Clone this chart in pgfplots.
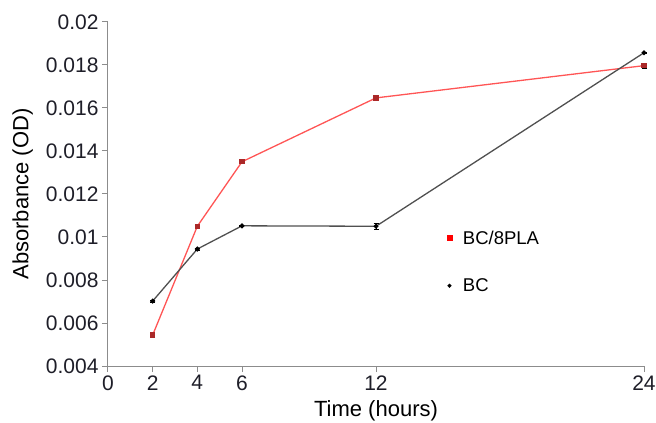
\documentclass[border=0pt]{standalone}
\usepackage{pgfplots}
\pgfplotsset{compat=1.18}
\usepackage{fontspec}
\setmainfont{Liberation Sans}
\definecolor{axgray}{gray}{0.55}
\definecolor{redline}{RGB}{255,85,85}
\definecolor{redmark}{RGB}{170,40,40}
\definecolor{blackline}{RGB}{80,80,80}
\definecolor{txt}{RGB}{30,30,40}
\begin{document}
\begin{tikzpicture}
\useasboundingbox (-108pt,-57pt) rectangle (548pt,366pt);
\begin{axis}[
  at={(0pt,0pt)}, anchor=south west,
  scale only axis,
  width=536pt, height=344pt,
  xmin=0, xmax=24, ymin=0.004, ymax=0.02,
  axis x line*=bottom, axis y line*=left,
  axis line style={axgray, line width=1pt},
  tick style={axgray, line width=1pt},
  tick align=outside,
  major tick length=6pt,
  xtick={0,2,4,6,12,24},
  ytick={0.004,0.006,0.008,0.01,0.012,0.014,0.016,0.018,0.02},
  yticklabels={0.004,0.006,0.008,0.01,0.012,0.014,0.016,0.018,0.02},
  scaled y ticks=false,
  /pgf/number format/assume math mode=true,
  ticklabel style={font=\fontsize{21}{24}\selectfont, text=txt},
  xlabel={Time (hours)},
  ylabel={Absorbance (OD)},
  label style={font=\fontsize{22}{26}\selectfont, text=black},
  xlabel style={at={(ticklabel cs:0.5)}, anchor=north, yshift=-3pt},
  ylabel style={at={(ticklabel cs:0.5)}, anchor=south, yshift=6pt},
  legend style={draw=none, fill=none, at={(0.632,0.40)}, anchor=north west,
    font=\fontsize{18.5}{22}\selectfont, row sep=29pt, inner sep=0pt,
    /tikz/every odd column/.append style={column sep=9pt}},
  legend cell align=left,
  clip=false,
]
\addlegendimage{only marks, mark=square*, mark size=2.5pt, mark options={fill=red, draw=red}}
\addlegendentry{BC/8PLA}
\addlegendimage{only marks, mark=*, mark size=1.8pt, mark options={fill=black, draw=black}}
\addlegendentry{BC}
\addplot[forget plot, redline, line width=1.3pt, mark=square*, mark size=2pt,
  mark options={fill=redmark, draw=redmark},
  error bars/.cd, y dir=both, y explicit,
  error bar style={black, line width=0.8pt}, error mark options={black, mark size=2.5pt, rotate=90}]
  coordinates {
  (2,0.00544) +- (0,0.00012)
  (4,0.0105) +- (0,0.00005)
  (6,0.0135) +- (0,0.00004)
  (12,0.01647) +- (0,0.00008)
  (24,0.01797) +- (0,0.00012)
  };
\addplot[forget plot, blackline, line width=1.3pt, mark=*, mark size=1.8pt,
  mark options={fill=black, draw=black},
  error bars/.cd, y dir=both, y explicit,
  error bar style={black, line width=0.8pt}, error mark options={black, mark size=2.5pt, rotate=90}]
  coordinates {
  (2,0.00702) +- (0,0.00003)
  (4,0.00944) +- (0,0.00006)
  (6,0.01052) +- (0,0.00003)
  (12,0.01050) +- (0,0.00012)
  (24,0.01857) +- (0,0.00004)
  };
\end{axis}
\end{tikzpicture}
\end{document}
